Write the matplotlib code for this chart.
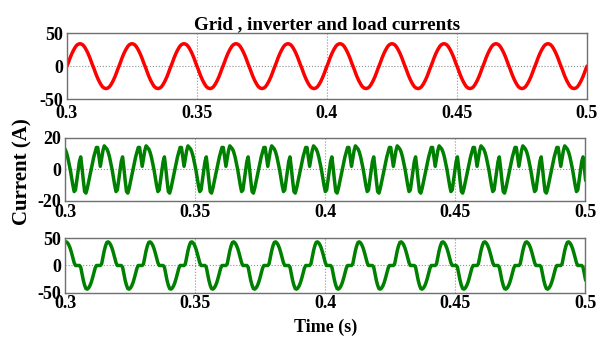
import matplotlib
matplotlib.use("Agg")
import matplotlib.pyplot as plt
import numpy as np

plt.rcParams["font.family"] = "Liberation Serif"
plt.rcParams["font.weight"] = "bold"

# One period of each waveform (A)
grid_cycle = [0, 5, 10.5, 15.5, 20, 24, 27.5, 30.5, 32.5, 33.5,
              34, 33.5, 32.5, 30.5, 27.5, 24, 20, 15.5, 10.5, 5,
              0, -5, -10.5, -15.5, -20, -24, -27.5, -30.5, -32.5, -33.5,
              -34, -33.5, -32.5, -30.5, -27.5, -24, -20, -15.5, -10.5, -5]
grid_period = 0.020

inverter_cycle = [13, 11, 8, 4, 0, -5, -10, -14, -13, -7, -1, 5, 8, 1, -7, -14,
                  -15, -12, -8, -4, 0, 4, 8, 11, 14, 14, 8, 2, 7, 12, 15, 14]
load_cycle = [42, 43, 41, 37, 31, 23, 14, 5, 0, 0, 0, 0, -3, -15, -27, -36,
              -42, -43, -41, -37, -31, -23, -14, -5, 0, 0, 0, 0, 3, 15, 27, 36]
load_period = 0.0161

t_start, t_end = 0.3, 0.5
x_ticks = [0.3, 0.35, 0.4, 0.45, 0.5]
x_labels = ["0.3", "0.35", "0.4", "0.45", "0.5"]


def build(cycle, period):
    dt = period / len(cycle)
    n = int(round((t_end - t_start) / dt)) + 1
    reps = n // len(cycle) + 1
    y = np.tile(cycle, reps)[:n]
    t = t_start + np.arange(n) * dt
    return t, y


t_g, i_g = build(grid_cycle, grid_period)
t_c, i_c = build(inverter_cycle, load_period)
t_l, i_l = build(load_cycle, load_period)

fig = plt.figure(figsize=(5.97, 3.43), dpi=100)
ax1 = fig.add_axes([0.1122, 0.711, 0.871, 0.1924])
ax2 = fig.add_axes([0.1089, 0.414, 0.871, 0.1837])
ax3 = fig.add_axes([0.1089, 0.1458, 0.871, 0.1603])

panels = [
    (ax1, t_g, i_g, "#ff0000", 50, 4.5),
    (ax2, t_c, i_c, "#008000", 20, 2.5),
    (ax3, t_l, i_l, "#008000", 50, 1.5),
]
for ax, t, y, col, lim, pad in panels:
    ax.plot(t, y, color=col, lw=2.5, solid_capstyle="round")
    ax.set_xlim(t_start, t_end)
    ax.set_ylim(-lim, lim)
    ax.set_xticks(x_ticks)
    ax.set_xticklabels(x_labels)
    ax.set_yticks([-lim, 0, lim])
    ax.set_yticklabels([f"-{lim}", "0", f"{lim}"])
    ax.tick_params(length=0, labelsize=13, pad=3)
    ax.tick_params(axis="x", pad=pad)
    ax.grid(True, linestyle=":", color="#909090", lw=0.8)
    for sp in ax.spines.values():
        sp.set_color("#707070")
        sp.set_linewidth(1.0)

ax1.set_title("Grid , inverter and load currents", fontsize=13.7,
              fontweight="bold", pad=3)
fig.text(0.038, 0.50, "Current (A)", rotation=90, ha="center", va="center",
         fontsize=15, fontweight="bold")
fig.text(0.545, 0.045, "Time (s)", ha="center", va="center",
         fontsize=13, fontweight="bold")

fig.savefig("out.png", dpi=100)
